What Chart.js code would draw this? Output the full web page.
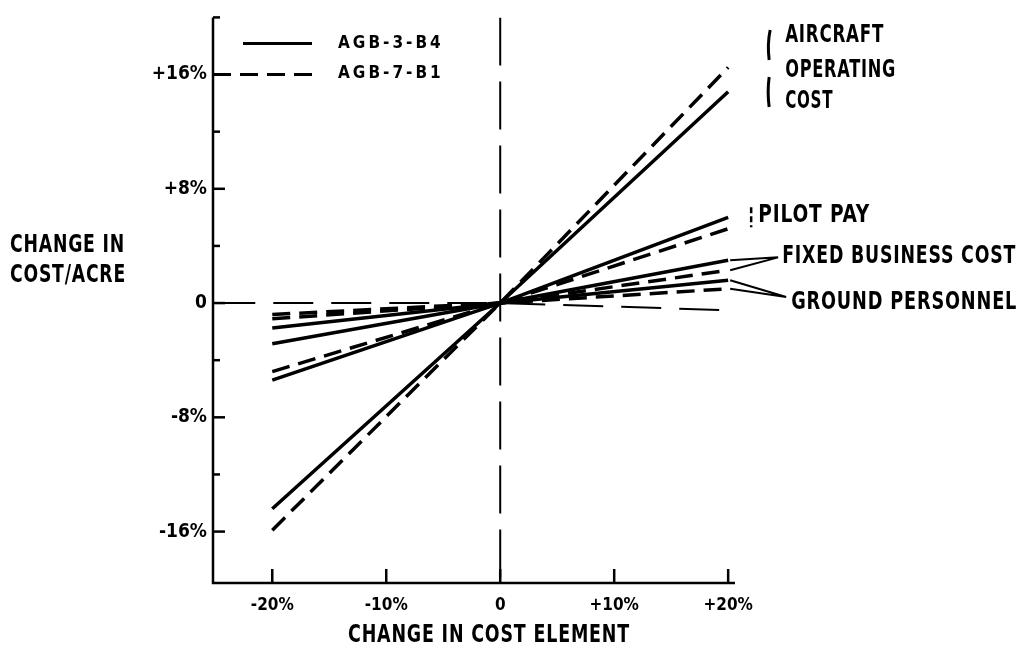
<!DOCTYPE html>
<html>
<head>
<meta charset="utf-8">
<script src="https://cdn.jsdelivr.net/npm/chart.js@4/dist/chart.umd.min.js"></script>
<style>
  html, body { margin: 0; padding: 0; background: #fff; }
  #wrap { width: 1027px; height: 664px; }
</style>
</head>
<body>
<div id="wrap"><canvas id="chart" width="1027" height="664"></canvas></div>
<script>
// Datos (cambio % en coste elemento -> cambio % coste/acre)
const costX = [-20, 0, 20];
const xTicks = [-20, -10, 0, 10, 20];
const yTicks = [-16, -12, -8, -4, 0, 4, 8, 12, 16, 20];
const yLabeled = [-16, -8, 0, 8, 16];

const aircraftB4 = [-14.4, 0, 14.8];
const aircraftB1 = [-15.9, 0, 16.5];
const pilotB4 = [-5.4, 0, 6.0];
const pilotB1 = [-4.8, 0, 5.2];
const fixedB4 = [-2.85, 0, 3.0];
const fixedB1 = [-1.1, 0, 2.3];
const groundB4 = [-1.75, 0, 1.6];
const groundB1 = [-0.8, 0, 1.0];

// línea de referencia a trazos largos
const refX = [-25, 0, 20];
const refY = [0, 0, -0.5];
const vertX = [0, 0];
const vertY = [20, -19.6];

const FONT = "'DejaVu Sans Condensed', 'DejaVu Sans', sans-serif";
const DASH = [18, 9];

function pts(xs, ys) {
  return xs.map((x, i) => ({ x: x, y: ys[i] }));
}

function series(label, ys, dashed) {
  return {
    label: label,
    data: pts(costX, ys),
    borderColor: '#000',
    borderWidth: 3.5,
    borderDash: dashed ? DASH : [],
    pointRadius: 0,
    tension: 0,
    fill: false,
  };
}

const datasets = [
  series('AGB-3-B4 aircraft', aircraftB4, false),
  series('AGB-7-B1 aircraft', aircraftB1, true),
  series('AGB-3-B4 pilot', pilotB4, false),
  series('AGB-7-B1 pilot', pilotB1, true),
  series('AGB-3-B4 fixed', fixedB4, false),
  series('AGB-7-B1 fixed', fixedB1, true),
  series('AGB-3-B4 ground', groundB4, false),
  series('AGB-7-B1 ground', groundB1, true),
  {
    label: 'ref', data: pts(refX, refY), borderColor: '#000', borderWidth: 2,
    borderDash: [40, 18], pointRadius: 0, fill: false,
  },
  {
    label: 'vert', data: pts(vertX, vertY), borderColor: '#000', borderWidth: 2,
    borderDash: [48, 16], pointRadius: 0, fill: false,
  },
];

// texto estrecho: se escala en horizontal hasta el ancho pedido
function narrowText(ctx, text, x, y, width) {
  const w = ctx.measureText(text).width;
  ctx.save();
  ctx.translate(x, y);
  ctx.scale(width / w, 1);
  ctx.fillText(text, 0, 0);
  ctx.restore();
}

// Marcas hacia dentro, leyenda y anotaciones
const decor = {
  id: 'decor',
  afterDraw(chart) {
    const ctx = chart.ctx;
    const xs = chart.scales.x, ys = chart.scales.y;
    const area = chart.chartArea;
    ctx.save();
    ctx.strokeStyle = '#000';
    ctx.fillStyle = '#000';
    ctx.lineCap = 'butt';

    // ejes
    ctx.lineWidth = 2.5;
    ctx.beginPath();
    ctx.moveTo(area.left, area.top);
    ctx.lineTo(area.left, area.bottom);
    ctx.lineTo(area.right, area.bottom);
    ctx.stroke();

    // ticks hacia dentro
    yTicks.forEach(v => {
      const py = ys.getPixelForValue(v);
      const len = yLabeled.includes(v) ? 12 : 7;
      ctx.beginPath();
      ctx.moveTo(area.left, py);
      ctx.lineTo(area.left + len, py);
      ctx.stroke();
    });
    xTicks.forEach(v => {
      const px = xs.getPixelForValue(v);
      ctx.beginPath();
      ctx.moveTo(px, area.bottom);
      ctx.lineTo(px, area.bottom - 14);
      ctx.stroke();
    });

    // leyenda
    const y16 = ys.getPixelForValue(16);
    ctx.lineWidth = 3;
    ctx.beginPath();
    ctx.moveTo(area.left + 30, y16 - 31);
    ctx.lineTo(area.left + 99, y16 - 31);
    ctx.stroke();
    ctx.setLineDash([18, 9]);
    ctx.beginPath();
    ctx.moveTo(area.left, y16);
    ctx.lineTo(area.left + 99, y16);
    ctx.stroke();
    ctx.setLineDash([]);

    ctx.textBaseline = 'middle';
    ctx.textAlign = 'left';
    ctx.font = 'bold 17px ' + FONT;
    ctx.letterSpacing = '3px';
    ctx.fillText('AGB-3-B4', area.left + 125, y16 - 31);
    ctx.fillText('AGB-7-B1', area.left + 125, y16 - 1);

    // etiquetas de series
    const xr = xs.getPixelForValue(20);
    ctx.font = 'bold 24px ' + FONT;
    ctx.letterSpacing = '1px';
    narrowText(ctx, 'AIRCRAFT', xr + 57, 36, 99);
    narrowText(ctx, 'OPERATING', xr + 57, 71, 111);
    narrowText(ctx, 'COST', xr + 57, 102, 48);
    ctx.lineWidth = 3;
    ctx.beginPath();
    ctx.moveTo(xr + 42, 30); ctx.quadraticCurveTo(xr + 39, 44, xr + 41, 60);
    ctx.moveTo(xr + 41, 77); ctx.quadraticCurveTo(xr + 39, 92, xr + 41, 107);
    ctx.stroke();

    narrowText(ctx, 'PILOT PAY', xr + 30, ys.getPixelForValue(6.1), 112);
    ctx.setLineDash([6, 3]);
    ctx.lineWidth = 2.5;
    ctx.beginPath();
    ctx.moveTo(xr + 23, ys.getPixelForValue(6.7));
    ctx.lineTo(xr + 23, ys.getPixelForValue(5.3));
    ctx.stroke();
    ctx.setLineDash([]);

    const yFix = ys.getPixelForValue(3.2);
    narrowText(ctx, 'FIXED BUSINESS COST', xr + 54, yFix - 1, 234);
    const yGr = ys.getPixelForValue(0);
    narrowText(ctx, 'GROUND PERSONNEL', xr + 63, yGr, 226);

    // flechas
    ctx.lineWidth = 2;
    ctx.beginPath();
    ctx.moveTo(xr + 50, yFix);
    ctx.lineTo(xr + 2, ys.getPixelForValue(fixedB4[2]));
    ctx.moveTo(xr + 50, yFix);
    ctx.lineTo(xr + 2, ys.getPixelForValue(fixedB1[2]));
    ctx.moveTo(xr + 58, yGr - 6);
    ctx.lineTo(xr + 2, ys.getPixelForValue(groundB4[2]));
    ctx.moveTo(xr + 58, yGr - 6);
    ctx.lineTo(xr + 2, ys.getPixelForValue(groundB1[2]));
    ctx.stroke();

    // títulos de ejes
    narrowText(ctx, 'CHANGE IN', 10, 246, 115);
    narrowText(ctx, 'COST/ACRE', 10, 276, 116);
    narrowText(ctx, 'CHANGE IN COST ELEMENT', 348, 636, 282);
    ctx.restore();
  }
};

new Chart(document.getElementById('chart'), {
  type: 'line',
  data: { datasets: datasets },
  plugins: [decor],
  options: {
    responsive: false,
    animation: false,
    layout: { padding: { left: 10, right: 292, top: 10, bottom: 0 } },
    plugins: {
      legend: { display: false },
      tooltip: { enabled: false },
    },
    scales: {
      x: {
        type: 'linear',
        min: -25.2,
        max: 20.6,
        afterBuildTicks(scale) { scale.ticks = xTicks.map(v => ({ value: v })); },
        afterFit(scale) { scale.height = 81; },
        grid: { display: false, drawTicks: false },
        border: { display: false },
        ticks: {
          color: '#000',
          padding: 12,
          font: { family: FONT, size: 17, weight: 'bold' },
          callback: v => v === 0 ? '0' : (v > 0 ? '+' + v + '%' : v + '%'),
        },
      },
      y: {
        type: 'linear',
        min: -19.6,
        max: 20,
        afterBuildTicks(scale) { scale.ticks = yLabeled.map(v => ({ value: v })); },
        afterFit(scale) { scale.width = 203; },
        grid: { display: false, drawTicks: false },
        border: { display: false },
        ticks: {
          color: '#000',
          padding: 6,
          font: { family: FONT, size: 19, weight: 'bold' },
          callback: v => v === 0 ? '0' : (v > 0 ? '+' + v + '%' : v + '%'),
        },
      },
    },
  },
});
</script>
</body>
</html>
